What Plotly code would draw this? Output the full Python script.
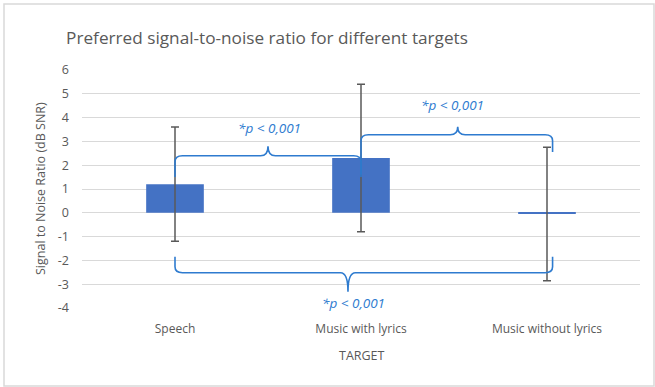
import plotly.graph_objects as go

categories = ["Speech", "Music with lyrics", "Music without lyrics"]
mean_snr = [1.2, 2.3, -0.05]
sd_snr = [2.4, 3.1, 2.8]
y_ticks = [6, 5, 4, 3, 2, 1, 0, -1, -2, -3, -4]

# significance brackets: (from category, to category, bracket level, end level(left), end level(right), tip x, tip y)
brackets = [
    (0.0, 1.0, 2.4, 1.5, 1.5, 0.5, 2.8),
    (1.0, 2.03, 3.28, 1.6, 2.55, 1.52, 3.62),
    (0.0, 2.03, -2.52, -1.85, -1.85, 0.93, -3.32),
]
sig_labels = ["*p < 0,001", "*p < 0,001", "*p < 0,001"]
sig_label_pos = [(0.51, 3.57), (1.49, 4.54), (0.96, -3.8)]

BLUE = "#2E7BCF"
GRAY = "#595959"
FONT = "Open Sans"

x = list(range(len(categories)))

fig = go.Figure()
fig.add_trace(go.Bar(
    x=x, y=mean_snr, width=0.31,
    marker=dict(color="#4472C4", line=dict(width=0)),
    error_y=dict(type="data", array=sd_snr, visible=True, color=GRAY, thickness=1.5, width=4),
    showlegend=False,
))


def bracket_path(x0, x1, y, e0, e1, tx, ty):
    r = 0.04  # horizontal curl
    d0 = 0.25 if e0 < y else -0.25
    d1 = 0.25 if e1 < y else -0.25
    p = f"M {x0},{e0} L {x0},{y - d0} Q {x0},{y} {x0 + r},{y} "
    p += f"L {tx - r},{y} Q {tx},{y} {tx},{ty} "
    p += f"Q {tx},{y} {tx + r},{y} L {x1 - r},{y} Q {x1},{y} {x1},{y - d1} L {x1},{e1}"
    return p


for b in brackets:
    fig.add_shape(type="path", path=bracket_path(*b), xref="x", yref="y",
                  line=dict(color=BLUE, width=1.6), layer="above")

for lab, (lx, ly) in zip(sig_labels, sig_label_pos):
    fig.add_annotation(x=lx, y=ly, xref="x", yref="y", text=f"<i>{lab}</i>",
                       showarrow=False, font=dict(family=FONT, size=13.5, color=BLUE))

# chart border
fig.add_shape(type="rect", xref="paper", yref="paper",
              x0=(4 - 82) / 558, x1=(654 - 82) / 558,
              y0=(308 - 386) / 238, y1=(308 - 4) / 238,
              line=dict(color="#D9D9D9", width=1.5), layer="below")

fig.add_annotation(xref="paper", yref="paper", x=(40 - 82) / 558, y=0.5, textangle=-90,
                   xanchor="center", yanchor="middle",
                   text="Signal to Noise Ratio (dB SNR)", showarrow=False,
                   font=dict(family=FONT, size=12.5, color=GRAY))
fig.add_annotation(xref="paper", yref="paper", x=(362 - 82) / 558, y=(308 - 355) / 238,
                   xanchor="center", yanchor="middle",
                   text="TARGET", showarrow=False,
                   font=dict(family=FONT, size=12.5, color=GRAY))

fig.update_layout(
    width=655, height=387,
    margin=dict(l=82, r=15, t=70, b=79),
    paper_bgcolor="white", plot_bgcolor="white",
    title=dict(text="Preferred signal-to-noise ratio for different targets",
               x=267 / 655, xanchor="center", y=1 - 38 / 387, yanchor="middle",
               font=dict(family=FONT, size=17.2, color=GRAY)),
    xaxis=dict(range=[-0.5, 2.5], tickvals=x, ticktext=categories, showgrid=False,
               zeroline=False, showline=False, ticks="", ticklabelstandoff=12,
               tickfont=dict(family=FONT, size=12, color=GRAY)),
    yaxis=dict(range=[-4, 6], tickvals=y_ticks, ticktext=[str(v) for v in y_ticks],
               showgrid=True, gridcolor="#D9D9D9", gridwidth=1, zeroline=False,
               showline=False, ticks="", ticklabelstandoff=12,
               tickfont=dict(family=FONT, size=12.5, color=GRAY)),
    bargap=0.69,
)

fig.write_html("out.html", config={"displayModeBar": False},
               post_script="document.body.style.margin='0px';document.body.style.padding='0px';")
